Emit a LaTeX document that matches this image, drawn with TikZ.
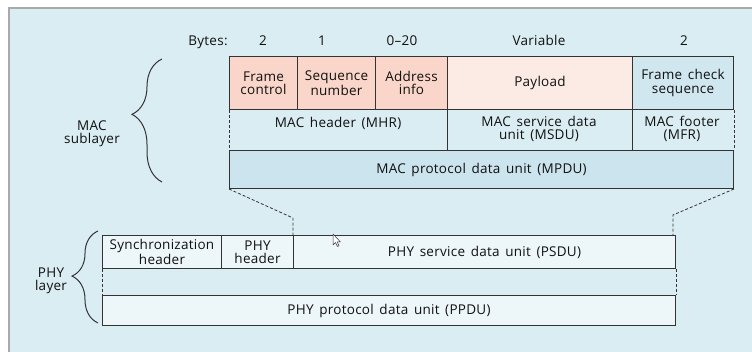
\documentclass[tikz,border=0pt]{standalone}
\usepackage{fontspec}
\setmainfont{Open Sans}[LetterSpace=2,WordSpace=1.5]
\usetikzlibrary{decorations.pathreplacing}
\definecolor{bg}{HTML}{DAEDF3}
\definecolor{frameg}{HTML}{A9A9A9}
\definecolor{salmon}{HTML}{F9D6C9}
\definecolor{pinkl}{HTML}{FCEAE4}
\definecolor{fcsb}{HTML}{D0E7F0}
\definecolor{mpdub}{HTML}{CCE4EE}
\definecolor{phyf}{HTML}{EDF6F9}
\definecolor{linec}{HTML}{333333}
\definecolor{txt}{HTML}{111111}
\begin{document}
\begin{tikzpicture}[x=1pt,y=-1pt,
  lbl/.style={font=\fontsize{13.5}{13.3}\selectfont, align=center, inner sep=0pt, text=txt},
  cell/.style n args={2}{lbl, draw=linec, line width=1pt, anchor=north west,
     minimum width=#1, minimum height=#2},
  sep/.style={draw=linec, line width=1pt},
  dsh/.style={draw=linec, line width=0.8pt, dash pattern=on 3pt off 2pt},
  brc/.style={draw=linec, line width=1pt, decorate}]
\useasboundingbox (0,0) rectangle (752,352);
\fill[white] (0,0) rectangle (752,352);
\fill[bg] (9,8) rectangle (752,352);
\draw[frameg, line width=1.5pt] (9,352) -- (9,8) -- (752,8);

% byte counts
\node[lbl, anchor=base] (bytes) at (208,46) {Bytes:};
\node[lbl, anchor=base] (b1) at (263,46) {2};
\node[lbl, anchor=base] (b2) at (322,46) {1};
\node[lbl, anchor=base] (b3) at (402,46) {0–20};
\node[lbl, anchor=base] (b4) at (539,46) {Variable};
\node[lbl, anchor=base] (b5) at (684,46) {2};

% MAC frame fields
\node[cell={68pt}{53pt}, fill=salmon] (fc) at (229,56) {Frame\\control};
\node[cell={78pt}{53pt}, fill=salmon] (sn) at (297,56) {Sequence\\number};
\node[cell={72pt}{53pt}, fill=salmon] (ai) at (375,56) {Address\\info};
\node[cell={185pt}{53pt}, fill=pinkl] (pl) at (447,56) {Payload};
\node[cell={101pt}{53pt}, fill=fcsb] (fcs) at (632,56) {Frame check\\sequence};

% MPDU
\node[cell={504pt}{38pt}, fill=mpdub] (mpdu) at (229,150) {MAC protocol data unit (MPDU)};

% second row labels
\node[lbl] (mhr) at (338,123.5) {MAC header (MHR)};
\node[lbl] (msdu) at (539,129) {MAC service data\\unit (MSDU)};
\node[lbl] (mfr) at (682,129) {MAC footer\\(MFR)};
\draw[sep] (pl.south west) -- (pl.south west |- mpdu.north);
\draw[sep] (fcs.south west) -- (fcs.south west |- mpdu.north);
\draw[dsh] (fc.south west) -- (mpdu.north west);
\draw[dsh] (fcs.south east) -- (mpdu.north east);

% PHY frame
\node[cell={119pt}{33pt}, fill=phyf] (sync) at (102,235) {Synchronization\\header};
\node[cell={72pt}{33pt}, fill=phyf] (phyh) at (221,235) {PHY\\header};
\node[cell={382pt}{33pt}, fill=phyf] (psdu) at (293,235) {PHY service data unit (PSDU)};
\node[cell={573pt}{30pt}, fill=phyf] (ppdu) at (102,295) {PHY protocol data unit (PPDU)};

% dashed mapping lines
\coordinate (kl) at (293,218);
\coordinate (kr) at (673,215);
\draw[dsh] (mpdu.south west) -- (kl) -- (psdu.north west);
\draw[dsh] (mpdu.south east) -- (kr) -- (kr |- psdu.north);
\draw[dsh] (sync.south west) -- (ppdu.north west);
\draw[dsh] (psdu.south east) -- (ppdu.north east);

% braces
\coordinate (mb1) at (162,182);
\coordinate (mb2) at (162,59);
\draw[brc, decoration={brace, amplitude=30pt, aspect=0.55}] (mb1) -- (mb2);
\coordinate (pb1) at (98,323);
\coordinate (pb2) at (98,231);
\draw[brc, decoration={brace, amplitude=26pt, aspect=0.51}] (pb1) -- (pb2);
\node[lbl] (macl) at (92,134) {MAC\\sublayer};
\node[lbl] (phyl) at (51,281) {PHY\\layer};

% mouse pointer
\draw[linec, fill=white, line width=0.5pt, line join=round] (333,234) -- (333,245) -- (335.5,242.5) -- (337.5,246.5) -- (339,245.8) -- (337.2,242) -- (340.5,242) -- cycle;
\end{tikzpicture}
\end{document}
